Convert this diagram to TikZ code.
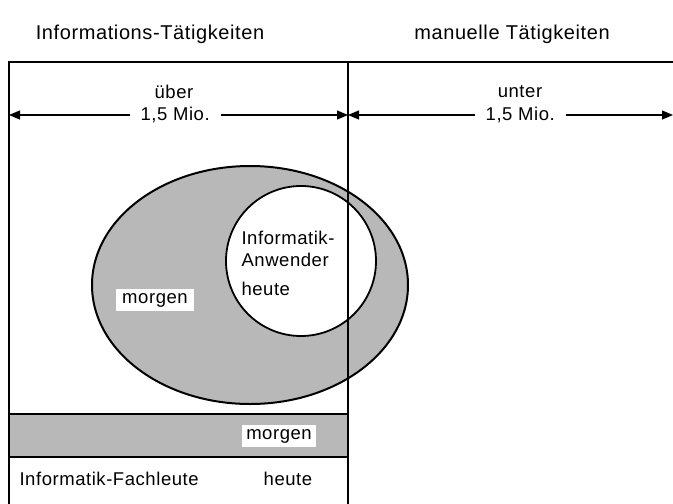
\documentclass[tikz,border=0pt]{standalone}
\usepackage{fontspec}
\setmainfont[LetterSpace=3]{Liberation Sans}
\usetikzlibrary{arrows.meta}

\begin{document}
\begin{tikzpicture}[x=1pt,y=-1pt,>={Triangle[length=11pt,width=9pt]},
    every node/.style={font=\fontsize{18.5}{22}\selectfont},
    head/.style={font=\fontsize{20}{24}\selectfont},
    frame/.style={line width=1.6pt},
    shade/.style={fill=black!28},
    blank/.style={fill=white,inner sep=4pt},
    gap/.style={fill=white,inner xsep=11pt,inner ysep=3pt}]

    \useasboundingbox (0,0) rectangle (673,504);
    \clip (0,0) rectangle (673,504);

    % headings
    \node[head] (info) at (150,34) {Informations-Tätigkeiten};
    \node[head] (manu) at (512,34) {manuelle Tätigkeiten};

    % shaded bar
    \coordinate (barTL) at (10,414);
    \coordinate (barTR) at (348,414);
    \coordinate (barBL) at (10,457);
    \coordinate (barBR) at (348,457);
    \fill[shade] (barTL) rectangle (barBR);
    \draw[line width=1.3pt] (barTL) -- (barTR);
    \draw[line width=1.3pt] (barBL) -- (barBR);

    % ellipse and circle
    \draw[shade,line width=2pt] (250,285) ellipse [x radius=158,y radius=119];
    \draw[fill=white,line width=1.8pt] (301,261) circle (75);

    % frame
    \coordinate (TL) at (9,62);
    \coordinate (TM) at (348,62);
    \coordinate (TR) at (673,62);
    \coordinate (BL) at (9,504);
    \coordinate (BM) at (348,504);
    \draw[frame] (BL) -- (TL) -- (TR);
    \draw[frame] (TM) -- (BM);

    % arrows
    \coordinate (AL) at (9,115);
    \coordinate (AM) at (348,115);
    \coordinate (AR) at (673,115);
    \node (ueber) at (174,92) {über};
    \node (unter) at (520,92) {unter};
    \draw[<->,line width=1.2pt] (AL) -- node[gap,pos=0.49] (mio1) {1,5 Mio.} (AM);
    \draw[<->,line width=1.2pt] (AM) -- node[gap,pos=0.53] (mio2) {1,5 Mio.} (AR);

    % labels
    \node[anchor=west,align=left] (anw) at (238,249) {Informatik-\\Anwender};
    \node[anchor=west] (heute1) at (238,289) {heute};
    \node[blank,inner xsep=6pt] (morgen1) at (155,300) {morgen};
    \node[blank] (morgen2) at (279,436) {morgen};
    \node[anchor=west] (fach) at (16,479) {Informatik-Fachleute};
    \node (heute2) at (288,479) {heute};
\end{tikzpicture}
\end{document}
